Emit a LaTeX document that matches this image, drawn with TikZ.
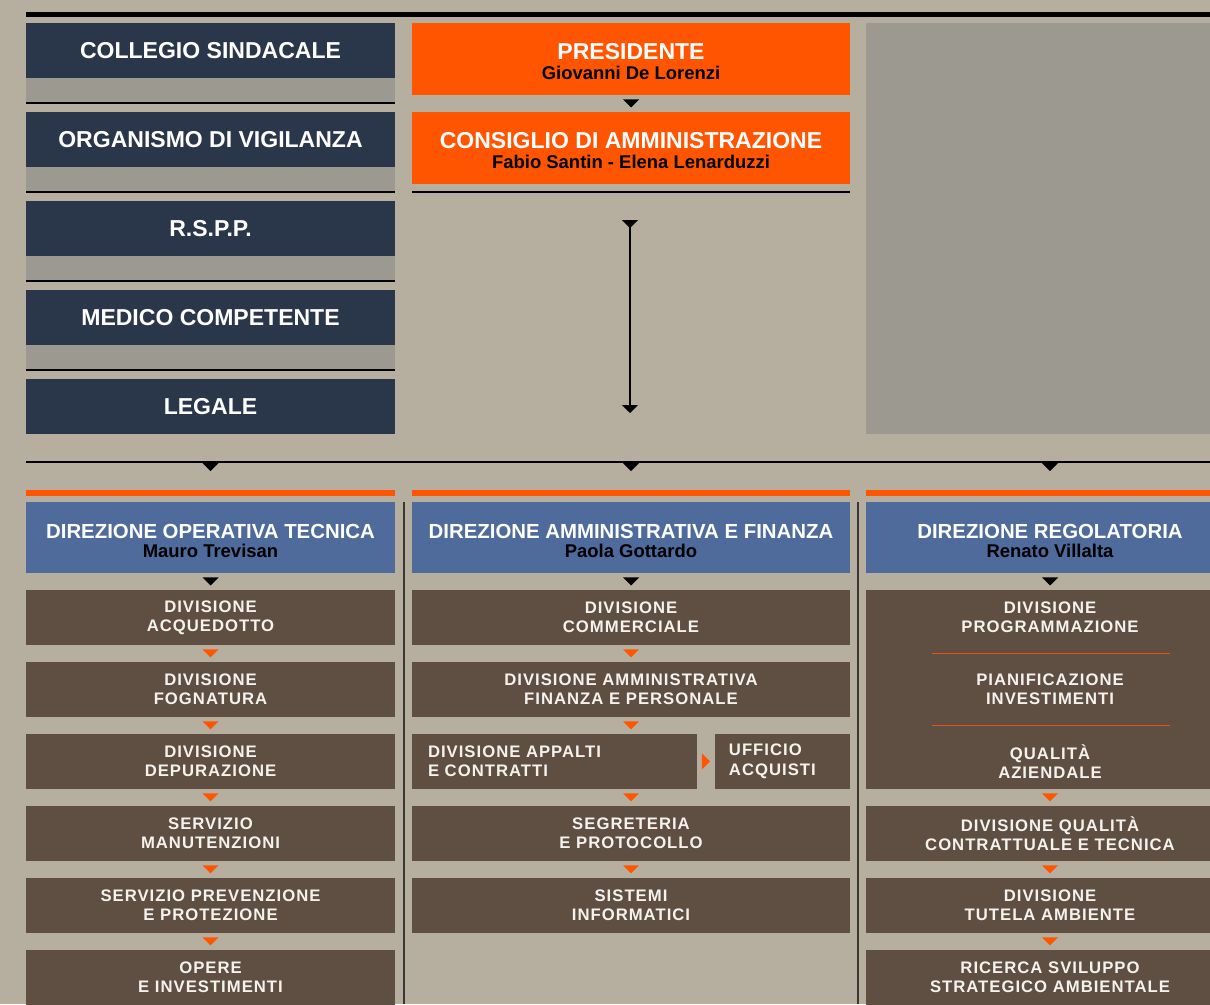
\documentclass[tikz,border=0pt]{standalone}
\usepackage{fontspec}
\setmainfont{Liberation Sans}
\usetikzlibrary{arrows.meta,positioning,calc}
\definecolor{bgc}{HTML}{B6AF9F}
\definecolor{navy}{HTML}{2A3649}
\definecolor{orng}{HTML}{FF5500}
\definecolor{gpan}{HTML}{9C9990}
\definecolor{blu}{HTML}{4E6B9C}
\definecolor{brn}{HTML}{5F4F42}
\definecolor{txtw}{HTML}{F5F2EE}
\definecolor{sepc}{HTML}{3A3632}
\newcommand{\hdsize}{\fontsize{13.1}{14}\selectfont\bfseries}
\newcommand{\dirsize}{\fontsize{11.6}{13}\selectfont\bfseries}
\newcommand{\nmsize}{\fontsize{10.5}{11}\selectfont\bfseries}
\newcommand{\unsize}{\fontsize{9.5}{11}\selectfont\bfseries\addfontfeatures{LetterSpace=6}}
\newcommand{\who}[2][-2.4pt]{\\[#1]{\nmsize\color{black}#2}}
\newcommand{\lift}[1]{\rule{0pt}{#1}}

\begin{document}
\begin{tikzpicture}[x=0.02cm,y=-0.02cm,node distance=0.34cm,
  every node/.style={outer sep=0pt},
  side/.style={fill=navy,text=white,minimum width=7.38cm,minimum height=1.1cm,inner sep=0pt,font=\hdsize},
  board/.style={fill=orng,text=white,minimum width=8.76cm,minimum height=1.44cm,inner sep=0pt,align=center,font=\hdsize},
  spare/.style={fill=gpan,minimum width=7.36cm,minimum height=8.22cm,inner sep=0pt},
  dirbox/.style={fill=blu,text=white,minimum height=1.42cm,inner sep=0pt,align=center,font=\dirsize},
  unit/.style={fill=brn,text=txtw,minimum height=1.1cm,inner sep=0pt,align=center,font=\unsize},
  narrow/.style={minimum width=7.38cm},
  wide/.style={minimum width=8.76cm},
  right col/.style={minimum width=7.36cm},
  rule/.style={line width=0.8pt,black},
  osep/.style={line width=0.8pt,orng!85!brn},
  dtri/.pic={\fill (-8,-4) -- (8,-4) -- (0,4) -- cycle;},
  rtri/.pic={\fill (-4,-8) -- (-4,8) -- (4,0) -- cycle;}]
\path[use as bounding box,clip] (0,0) rectangle (1210,1004);
\fill[bgc] (0,0) rectangle (1210,1004);
\draw[line width=3pt] (26,14.5) -- (1210,14.5);

% staff column
\node[side] (cs) at (210.5,50.5) {COLLEGIO SINDACALE};
\node[side,below=0.68cm of cs] (odv) {ORGANISMO DI VIGILANZA};
\node[side,below=0.68cm of odv] (rspp) {R.S.P.P.};
\node[side,below=0.68cm of rspp] (mc) {MEDICO COMPETENTE};
\node[side,below=0.68cm of mc] (leg) {LEGALE};
\foreach \n in {cs,odv,rspp,mc}{
  \fill[gpan] (\n.south west) rectangle ($(\n.south east)+(0,25)$);
  \draw[rule] ($(\n.south west)+(0,25)$) -- ($(\n.south east)+(0,25)$);
}

% board
\node[board] (pres) at (631,59) {\lift{11.8pt}PRESIDENTE\who{Giovanni De Lorenzi}};
\node[board,below=of pres] (cda) {\lift{11.8pt}CONSIGLIO DI AMMINISTRAZIONE\who{Fabio Santin - Elena Lenarduzzi}};
\path (pres.south) -- (cda.north) pic[midway,black]{dtri};
\draw[rule] ($(cda.south west)+(0,8)$) -- ($(cda.south east)+(0,8)$);
\coordinate (vtop) at (630,220);
\coordinate (vbot) at (630,413);
\draw[rule,{Triangle[reversed,width=0.32cm,length=0.16cm]}-{Triangle[width=0.32cm,length=0.16cm]}] (vtop) -- (vbot);
\node[spare] (blank) at (1050,228.5) {};

% directions
\coordinate (hl) at (26,462);
\coordinate (hr) at (1210,462);
\draw[rule] (hl) -- (hr);
\node[dirbox,narrow] (dot) at (210.5,537.5) {\lift{11.8pt}DIREZIONE OPERATIVA TECNICA\who{Mauro Trevisan}};
\node[dirbox,wide] (daf) at (631,537.5) {\lift{11.8pt}DIREZIONE AMMINISTRATIVA E FINANZA\who{Paola Gottardo}};
\node[dirbox,right col] (dr) at (1050,537.5) {\lift{11.8pt}DIREZIONE REGOLATORIA\who{Renato Villalta}};
\foreach \d in {dot,daf,dr}{
  \fill[orng] ($(\d.north west)+(0,-12)$) rectangle ($(\d.north east)+(0,-6.5)$);
  \path (hl -| \d) -- ($(\d.north)+(0,-12)$) pic[pos=0.18,black]{dtri};
}
\draw[line width=1pt,sepc] (404,502) -- (404,1004);
\draw[line width=1pt,sepc] (858,502) -- (858,1004);

% tecnica
\node[unit,narrow,below=of dot] (acq) {DIVISIONE\\ACQUEDOTTO};
\node[unit,narrow,below=of acq] (fogn) {DIVISIONE\\FOGNATURA};
\node[unit,narrow,below=of fogn] (dep) {DIVISIONE\\DEPURAZIONE};
\node[unit,narrow,below=of dep] (man) {SERVIZIO\\MANUTENZIONI};
\node[unit,narrow,below=of man] (spp) {SERVIZIO PREVENZIONE\\E PROTEZIONE};
\node[unit,narrow,below=of spp] (opere) {OPERE\\E INVESTIMENTI};

% amministrativa
\node[unit,wide,below=of daf] (comm) {DIVISIONE\\COMMERCIALE};
\node[unit,wide,below=of comm] (amm) {DIVISIONE AMMINISTRATIVA\\FINANZA E PERSONALE};
\node[unit,minimum width=5.7cm,align=left,text width=5.06cm,inner xsep=0.32cm,anchor=north west] (app) at ($(amm.south west)+(0,17)$) {DIVISIONE APPALTI\\E CONTRATTI};
\node[unit,minimum width=2.7cm,align=left,text width=2.14cm,inner xsep=0.28cm,right=0.36cm of app] (uff) {UFFICIO\\ACQUISTI};
\node[unit,wide,anchor=north] (segr) at ($(amm.south)+(0,89)$) {SEGRETERIA\\E PROTOCOLLO};
\node[unit,wide,below=of segr] (sist) {SISTEMI\\INFORMATICI};
\path (app) -- (uff) pic[midway,orng]{rtri};
\path (amm.south) -- (amm.south |- app.north) pic[midway,orng]{dtri};

% regolatoria
\node[unit,right col,minimum height=3.98cm,below=of dr] (divr) {};
\node[unit,right col,fill=none,anchor=north] (prog) at (divr.north) {DIVISIONE\\PROGRAMMAZIONE};
\node[unit,right col,fill=none,below=of prog] (pian) {PIANIFICAZIONE\\INVESTIMENTI};
\node[unit,right col,fill=none,below=of pian] (qual) {QUALITÀ\\AZIENDALE};
\foreach \a/\b in {prog/pian,pian/qual}
  \draw[osep] ($(\a.south)!0.5!(\b.north)+(-118,0)$) -- ++(238,0);
\node[unit,right col,below=of divr] (qct) {DIVISIONE QUALITÀ\\CONTRATTUALE E TECNICA};
\node[unit,right col,below=of qct] (tut) {DIVISIONE\\TUTELA AMBIENTE};
\node[unit,right col,below=of tut] (ric) {RICERCA SVILUPPO\\STRATEGICO AMBIENTALE};

\foreach \a/\b in {dot/acq,daf/comm,dr/divr}
  \path (\a.south) -- (\b.north) pic[midway,black]{dtri};
\foreach \a/\b in {acq/fogn,fogn/dep,dep/man,man/spp,spp/opere,comm/amm,app/segr,segr/sist,divr/qct,qct/tut,tut/ric}
  \path (\b.north |- \a.south) -- (\b.north) pic[midway,orng]{dtri};
\end{tikzpicture}
\end{document}
